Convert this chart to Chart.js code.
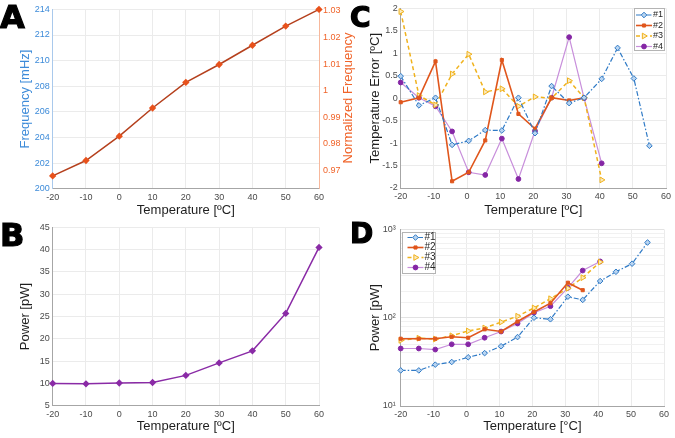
<!DOCTYPE html>
<html><head><meta charset="utf-8">
<script src="https://cdn.jsdelivr.net/npm/chart.js@4.4.0/dist/chart.umd.min.js"></script>
<style>
body{margin:0;background:#fff;width:675px;height:438px;overflow:hidden;position:relative;font-family:'Liberation Sans',Arial,sans-serif}
.wrap{position:absolute}
.letter{position:absolute;font-family:'DejaVu Sans',sans-serif;font-weight:bold;color:#000;line-height:1;-webkit-text-stroke:1.2px #000}
.rtitle{position:absolute;transform:rotate(-90deg);transform-origin:center center;white-space:nowrap;font-size:13px;color:#f0642a;text-align:center;line-height:16px;font-family:'Liberation Sans',Arial,sans-serif}
</style></head><body>
<div class="wrap" style="left:0;top:0;width:368px;height:219px"><canvas id="cA"></canvas></div>
<div class="wrap" style="left:0;top:219px;width:368px;height:219px"><canvas id="cB"></canvas></div>
<div class="wrap" style="left:368px;top:0;width:307px;height:219px"><canvas id="cC"></canvas></div>
<div class="wrap" style="left:368px;top:219px;width:307px;height:219px"><canvas id="cD"></canvas></div>
<div class="letter" style="left:0;top:1px;font-size:32px">A</div>
<div class="letter" style="left:0;top:219px;font-size:32px">B</div>
<div class="letter" style="left:350px;top:4px;font-size:28px">C</div>
<div class="letter" style="left:350px;top:220px;font-size:28px">D</div>
<div class="rtitle" style="left:267.5px;top:89.7px;width:160px;height:16px">Normalized Frequency</div>
<script>
// ---- data ----
const tempsAB = [-20, -10, 0, 10, 20, 30, 40, 50, 60];
const frequency = [201.0, 202.2, 204.1, 206.3, 208.3, 209.7, 211.2, 212.7, 214.0];
const power = [10.0, 9.9, 10.1, 10.2, 11.8, 14.6, 17.3, 25.7, 40.5];
const normTicks = [0.97, 0.98, 0.99, 1.0, 1.01, 1.02, 1.03];

const tempsCD = [-20, -14.5, -9.5, -4.5, 0.5, 5.5, 10.5, 15.5, 20.5, 25.5, 30.8, 35.3, 40.6, 45.4, 50.3, 55];
const seriesNames = ['#1', '#2', '#3', '#4'];
const err1 = [0.49, -0.16, 0.01, -1.04, -0.95, -0.71, -0.72, 0.01, -0.78, 0.27, -0.11, 0.01, 0.43, 1.12, 0.44, -1.06];
const err2 = [-0.09, 0.01, 0.82, -1.85, -1.65, -0.94, 0.85, -0.35, -0.68, 0.01, -0.05, 0.01];
const err3 = [1.93, 0.06, -0.15, 0.54, 0.98, 0.14, 0.21, -0.18, 0.03, 0.0, 0.39, 0.01, -1.82];
const err4 = [0.35, 0.01, -0.18, -0.74, -1.65, -1.71, -0.9, -1.8, -0.73, 0.01, 1.36, 0.0, -1.45];
const pow1 = [25.3, 25.3, 29.4, 31.5, 35.6, 39.7, 47.5, 60.3, 100, 96, 173, 159, 260, 331, 409, 711];
const pow2 = [57.8, 57.8, 57.8, 60.8, 59.3, 74, 69.7, 90.6, 116, 146, 249, 205];
const pow3 = [55.4, 58.6, 57.3, 62.4, 70.8, 76.5, 89.2, 104, 129, 164, 215, 284, 427];
const pow4 = [44.8, 44.8, 43.6, 50, 50, 59.3, 69.7, 86, 114, 135, 218, 342, 434];

// ---- helpers ----
const FAM = "'Liberation Sans', Arial, sans-serif";
const tickFont = {family: FAM, size: 9};
const tickColor = '#4a4a4a';
const gridColor = '#ebebeb';
const axisColor = '#a6a6a6';
const pts = (xs, ys) => ys.map((v, i) => ({x: xs[i], y: v}));

function xAxis(h, pb, degree) {
  return {
    type: 'linear', min: -20, max: 60,
    ticks: {stepSize: 10, font: tickFont, color: tickColor, padding: 3, maxRotation: 0, autoSkip: false},
    grid: {color: gridColor, drawTicks: false},
    border: {color: axisColor},
    title: {display: true, text: 'Temperature [' + degree + 'C]', font: {family: FAM, size: 13}, color: '#1e1e1e', padding: {top: 0, bottom: pb}},
    afterFit: s => { s.height = h; }
  };
}
function yTitle(text, pt, color) {
  return {display: true, text: text, font: {family: FAM, size: 13}, color: color || '#1e1e1e', padding: {top: pt, bottom: 0}};
}

const styles = [
  {borderColor: '#2f7ac6', borderWidth: 1.2, borderDash: [5, 2, 1.5, 2], pointStyle: 'rectRot', pointRadius: 2.8, pointBackgroundColor: '#b9d4f0', pointBorderColor: '#2f7ac6', pointRotation: 0},
  {borderColor: '#e0561c', borderWidth: 1.6, borderDash: [], pointStyle: 'rect', pointRadius: 2.2, pointBackgroundColor: '#e0561c', pointBorderColor: '#e0561c', pointRotation: 0},
  {borderColor: '#f0b21c', borderWidth: 1.5, borderDash: [4, 3], pointStyle: 'triangle', pointRadius: 3.3, pointBackgroundColor: '#fbeac0', pointBorderColor: '#f0b21c', pointRotation: 90},
  {borderColor: '#c88fdb', borderWidth: 1.2, borderDash: [], pointStyle: 'circle', pointRadius: 2.4, pointBackgroundColor: '#8526a5', pointBorderColor: '#8526a5', pointRotation: 0}
];
function mkSets(arrs) {
  return arrs.map((a, i) => Object.assign({label: seriesNames[i], data: pts(tempsCD, a), clip: false, pointBorderWidth: 1, tension: 0}, styles[i]));
}

const boxLegend = {
  id: 'boxLegend',
  afterDraw(chart, args, o) {
    if (!o || !o.box) return;
    const ctx = chart.ctx, b = o.box;
    ctx.save();
    ctx.fillStyle = '#fff'; ctx.strokeStyle = '#b4b4b4'; ctx.lineWidth = 1;
    ctx.fillRect(b.x, b.y, b.w, b.h);
    ctx.strokeRect(b.x + 0.5, b.y + 0.5, b.w, b.h);
    chart.data.datasets.forEach((ds, i) => {
      const y = o.y0 + i * o.dy;
      ctx.strokeStyle = ds.borderColor; ctx.lineWidth = ds.borderWidth;
      ctx.setLineDash(ds.borderDash || []);
      ctx.beginPath(); ctx.moveTo(o.x0, y); ctx.lineTo(o.x1, y); ctx.stroke();
      ctx.setLineDash([]);
      ctx.fillStyle = ds.pointBackgroundColor; ctx.strokeStyle = ds.pointBorderColor; ctx.lineWidth = 1;
      Chart.helpers.drawPoint(ctx, {pointStyle: ds.pointStyle, radius: ds.pointRadius, rotation: ds.pointRotation || 0, borderWidth: 1}, (o.x0 + o.x1) / 2, y);
      ctx.fillStyle = '#262626'; ctx.font = o.font + 'px ' + FAM; ctx.textBaseline = 'middle'; ctx.textAlign = 'left';
      ctx.fillText(ds.label, o.x1 + 1, y);
    });
    ctx.restore();
  }
};

const base = {responsive: true, maintainAspectRatio: false, animation: false, events: []};

// ---- A ----
new Chart(document.getElementById('cA'), {
  type: 'line',
  data: {datasets: [{
    label: 'Frequency', data: pts(tempsAB, frequency), yAxisID: 'y', clip: false,
    borderColor: '#b5401d', borderWidth: 1.5, pointStyle: 'rectRot', pointRadius: 2.6,
    pointBackgroundColor: '#e8521c', pointBorderColor: '#e8521c', tension: 0
  }]},
  options: Object.assign({}, base, {
    layout: {padding: {top: 6.7, left: 0, right: 0, bottom: 0}},
    plugins: {legend: {display: false}, tooltip: {enabled: false}},
    scales: {
      x: xAxis(30.3, 0.5, 'º'),
      y: {type: 'linear', position: 'left', min: 200, max: 214,
        ticks: {stepSize: 2, font: tickFont, color: '#3d8bd9', padding: 3},
        grid: {color: gridColor, drawTicks: false}, border: {color: '#a9c9ec'},
        title: yTitle('Frequency [mHz]', 17.2, '#3d8bd9'),
        afterFit: s => { s.width = 52.7; }},
      y1: {type: 'linear', position: 'right', min: 0.9632, max: 1.0306,
        afterBuildTicks: s => { s.ticks = normTicks.map(v => ({value: v})); },
        ticks: {font: tickFont, color: '#f0642a', padding: 4, callback: v => String(Math.round(v * 100) / 100)},
        grid: {display: false, drawTicks: false}, border: {color: '#f7b89c'},
        afterFit: s => { s.width = 49; }}
    }
  })
});

// ---- B ----
new Chart(document.getElementById('cB'), {
  type: 'line',
  data: {datasets: [{
    label: 'Power', data: pts(tempsAB, power), clip: false,
    borderColor: '#8a2ba6', borderWidth: 1.5, pointStyle: 'rectRot', pointRadius: 2.6,
    pointBackgroundColor: '#8a2ba6', pointBorderColor: '#8a2ba6', tension: 0
  }]},
  options: Object.assign({}, base, {
    layout: {padding: {top: 4.3, left: 0, right: 49, bottom: 0}},
    plugins: {legend: {display: false}, tooltip: {enabled: false}},
    scales: {
      x: xAxis(32.3, 3.5, 'º'),
      y: {type: 'linear', min: 5, max: 45,
        ticks: {stepSize: 5, font: tickFont, color: tickColor, padding: 3},
        grid: {color: gridColor, drawTicks: false}, border: {color: axisColor},
        title: yTitle('Power [pW]', 17.2),
        afterFit: s => { s.width = 52.7; }}
    }
  })
});

// ---- C ----
new Chart(document.getElementById('cC'), {
  type: 'line',
  data: {datasets: mkSets([err1, err2, err3, err4])},
  plugins: [boxLegend],
  options: Object.assign({}, base, {
    layout: {padding: {top: 6, left: 0, right: 9, bottom: 0}},
    plugins: {legend: {display: false}, tooltip: {enabled: false},
      boxLegend: {box: {x: 266, y: 8, w: 30, h: 42}, x0: 268, x1: 284, y0: 15, dy: 10.5, font: 9}},
    scales: {
      x: xAxis(31, 0.5, 'º'),
      y: {type: 'linear', min: -2, max: 2,
        ticks: {stepSize: 0.5, font: tickFont, color: tickColor, padding: 3, callback: v => String(Math.round(v * 10) / 10)},
        grid: {color: gridColor, drawTicks: false}, border: {color: axisColor},
        title: yTitle('Temperature Error [ºC]', 0),
        afterFit: s => { s.width = 32.7; }}
    }
  })
});

// ---- D ----
const supers = {10: '10¹', 100: '10²', 1000: '10³'};
new Chart(document.getElementById('cD'), {
  type: 'line',
  data: {datasets: mkSets([pow1, pow2, pow3, pow4])},
  plugins: [boxLegend],
  options: Object.assign({}, base, {
    layout: {padding: {top: 6.7, left: 0, right: 11, bottom: 0}},
    plugins: {legend: {display: false}, tooltip: {enabled: false},
      boxLegend: {box: {x: 34, y: 13, w: 33, h: 41}, x0: 39.5, x1: 55.5, y0: 18.5, dy: 10, font: 10}},
    scales: {
      x: xAxis(32, 3.5, '°'),
      y: {type: 'logarithmic', min: 10, max: 1000,
        ticks: {font: tickFont, color: tickColor, padding: 5, autoSkip: false,
          callback: v => supers[Math.round(v)] || ''},
        grid: {drawTicks: false, color: c => (c.tick && supers[Math.round(c.tick.value)]) ? '#e3e3e3' : '#f1f1f1'},
        border: {color: axisColor},
        title: yTitle('Power [pW]', 0),
        afterFit: s => { s.width = 32.7; }}
    }
  })
});
</script>
</body></html>
